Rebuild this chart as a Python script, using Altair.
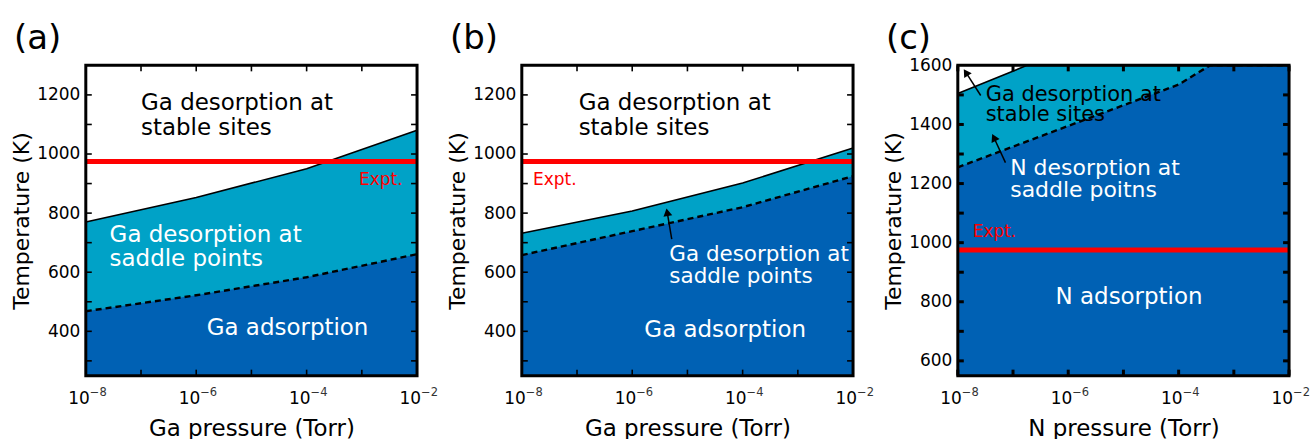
import math
import altair as alt
import pandas as pd

FONT = "DejaVu Sans"
CYAN = "#00A2C7"
BLUE = "#0061B4"
RED = "#FF0000"
W, H = 332, 311

# ---------------- data ----------------
p_grid = [1e-8, 1e-6, 1e-4, 1e-2]
a_stable_T = [770, 853, 950, 1080]      # Ga desorption at stable sites boundary (solid)
a_saddle_T = [468, 522, 583, 661]       # Ga desorption at saddle points boundary (dashed)
b_stable_T = [732, 807, 902, 1020]
b_saddle_T = [658, 739, 820, 925]
c_stable_p = [1e-8, 1.8e-7, 1e-2]
c_stable_T = [1505, 1600, 1600]
c_saddle_p = [1e-8, 1e-6, 1e-4, 3.7e-4, 1e-2]
c_saddle_T = [1255, 1395, 1535, 1600, 1600]
expt_T = [975]

x_tick_vals = [1e-8, 1e-6, 1e-4, 1e-2]
x_tick_base = ["10", "10", "10", "10"]
x_tick_exp = ["−8", "−6", "−4", "−2"]
x_minor = [1e-8, 1e-7, 1e-6, 1e-5, 1e-4, 1e-3, 1e-2]
ab_y_labels = [400, 600, 800, 1000, 1200]
ab_y_ticks = [300, 400, 500, 600, 700, 800, 900, 1000, 1100, 1200]
c_y_labels = [600, 800, 1000, 1200, 1400, 1600]
c_y_ticks = [600, 700, 800, 900, 1000, 1100, 1200, 1300, 1400, 1500]

# annotations: text, p, T, colour, font size
a_texts = [
    ("Ga desorption at", 1e-7, 1149, "black", 23),
    ("stable sites", 1e-7, 1064, "black", 23),
    ("Expt.", 8.9e-4, 895, RED, 17),
    ("Ga desorption at", 2.7e-8, 702, "white", 23),
    ("saddle points", 2.7e-8, 622, "white", 23),
    ("Ga adsorption", 1.55e-6, 386, "white", 23),
]
b_texts = [
    ("Ga desorption at", 1.07e-7, 1149, "black", 23),
    ("stable sites", 1.07e-7, 1064, "black", 23),
    ("Expt.", 1.6e-8, 895, RED, 17),
    ("Ga desorption at", 4.7e-6, 638, "white", 21.5),
    ("saddle points", 4.7e-6, 562, "white", 21.5),
    ("Ga adsorption", 1.66e-6, 380, "white", 23),
]
c_texts = [
    ("Ga desorption at", 3.2e-8, 1481, "black", 21),
    ("stable sites", 3.2e-8, 1411, "black", 21),
    ("N desorption at", 8.9e-8, 1230, "white", 22),
    ("saddle poitns", 8.9e-8, 1154, "white", 22),
    ("Expt.", 1.86e-8, 1020, RED, 17),
    ("N adsorption", 5.9e-7, 793, "white", 23),
]
# arrows: tail p, tail T, head p, head T, head angle
b_arrows = [(5.2e-6, 712, 4.3e-6, 803, 350)]
c_arrows = [(2.6e-8, 1498, 1.4e-8, 1576, 327),
            (7.3e-8, 1271, 4.5e-8, 1356, 334)]


def panel(tag, s_p, s_T, d_p, d_T, ydom, ylabels, yticks, xtitle, texts, arrows, tw):
    xs = alt.Scale(type="log", domain=[1e-8, 1e-2], nice=False)
    ys = alt.Scale(domain=ydom, nice=False, zero=False)
    xax = alt.Axis(values=x_tick_vals, labels=False, ticks=False, tickSize=0, domain=False,
                   grid=False, minExtent=0, title=xtitle, titleFont=FONT, titleFontSize=23,
                   titleFontWeight="normal", titleColor="black", titlePadding=42)
    yax = alt.Axis(values=ylabels, format="d", ticks=False, tickSize=0, domain=False,
                   grid=False, labelOverlap=False, labelFont=FONT, labelFontSize=17,
                   labelColor="black", labelPadding=6, title="Temperature (K)",
                   titleFont=FONT, titleFontSize=22, titleFontWeight="normal",
                   titleColor="black", titlePadding=3)
    X = alt.X("p:Q", scale=xs, axis=xax)
    Y = alt.Y("T:Q", scale=ys, axis=yax)
    floor = alt.datum(ydom[0])

    stable = pd.DataFrame({"p": s_p, "T": s_T})
    saddle = pd.DataFrame({"p": d_p, "T": d_T})

    layers = [
        alt.Chart(stable).mark_area(color=CYAN, opacity=1).encode(x=X, y=Y, y2=floor),
        alt.Chart(saddle).mark_area(color=BLUE, opacity=1).encode(x=X, y=Y, y2=floor),
        alt.Chart(stable).mark_line(color="black", strokeWidth=1.6).encode(x=X, y=Y),
        alt.Chart(saddle).mark_line(color="black", strokeWidth=2.4, strokeDash=[6, 4]).encode(x=X, y=Y),
        alt.Chart(pd.DataFrame({"T": expt_T})).mark_rule(color=RED, strokeWidth=5).encode(
            y=Y, x=alt.value(0), x2=alt.value(W)),
    ]
    tdf = pd.DataFrame(texts, columns=["txt", "p", "T", "col", "fs"])
    layers.append(alt.Chart(tdf).mark_text(align="left", baseline="alphabetic", font=FONT).encode(
        x=X, y=Y, text="txt:N", color=alt.Color("col:N", scale=None),
        size=alt.Size("fs:Q", scale=None)))
    if arrows:
        adf = pd.DataFrame(arrows, columns=["p", "T", "p2", "T2", "ang"])
        layers.append(alt.Chart(adf).mark_rule(color="black", strokeWidth=1.5).encode(
            x=X, y=Y, x2="p2:Q", y2="T2:Q"))
        hdf = adf[["p2", "T2", "ang"]].rename(columns={"p2": "p", "T2": "T"})
        layers.append(alt.Chart(hdf).mark_point(shape="triangle-up", filled=True, size=80,
                                                 color="black", opacity=1).encode(
            x=X, y=Y, angle=alt.Angle("ang:Q", scale=None)))
    # inward ticks on all four sides
    xt = pd.DataFrame({"p": x_minor})
    yt = pd.DataFrame({"T": yticks})
    layers += [
        alt.Chart(xt).mark_rule(color="black", strokeWidth=tw).encode(x=X, y=alt.value(0), y2=alt.value(6)),
        alt.Chart(xt).mark_rule(color="black", strokeWidth=tw).encode(x=X, y=alt.value(H), y2=alt.value(H - 6)),
        alt.Chart(yt).mark_rule(color="black", strokeWidth=tw).encode(y=Y, x=alt.value(0), x2=alt.value(6)),
        alt.Chart(yt).mark_rule(color="black", strokeWidth=tw).encode(y=Y, x=alt.value(W), x2=alt.value(W - 6)),
    ]
    # frame
    layers.append(alt.Chart(pd.DataFrame({"k": [0]})).mark_rect(
        fillOpacity=0, stroke="black", strokeWidth=3).encode(
        x=alt.value(0), x2=alt.value(W), y=alt.value(0), y2=alt.value(H)))
    # x tick labels: 10 with superscript exponent
    ldf = pd.DataFrame({"p": x_tick_vals, "base": x_tick_base, "exp": x_tick_exp})
    layers.append(alt.Chart(ldf).mark_text(
        align="right", baseline="alphabetic", font=FONT, fontSize=17, color="black", dx=4).encode(
        x=X, y=alt.value(H + 28), text="base:N"))
    layers.append(alt.Chart(ldf).mark_text(
        align="left", baseline="alphabetic", font=FONT, fontSize=11.5, color="#333333", dx=4).encode(
        x=X, y=alt.value(H + 20), text="exp:N"))
    # panel tag
    layers.append(alt.Chart(pd.DataFrame({"tag": [tag]})).mark_text(
        align="left", baseline="alphabetic", font=FONT, fontSize=34, color="black").encode(
        x=alt.value(-72), y=alt.value(-16), text="tag:N"))
    return alt.layer(*layers).properties(width=W, height=H)


pa = panel("(a)", p_grid, a_stable_T, p_grid, a_saddle_T, [250, 1300], ab_y_labels,
           ab_y_ticks, "Ga pressure (Torr)", a_texts, [], 1.6)
pb = panel("(b)", p_grid, b_stable_T, p_grid, b_saddle_T, [250, 1300], ab_y_labels,
           ab_y_ticks, "Ga pressure (Torr)", b_texts, b_arrows, 1.6)
pc = panel("(c)", c_stable_p, c_stable_T, c_saddle_p, c_saddle_T, [550, 1600], c_y_labels,
           c_y_ticks, "N pressure (Torr)", c_texts, c_arrows, 3)

chart = alt.hconcat(pa, pb, pc, spacing=105, bounds="flush").properties(
    padding={"left": 10, "top": 21, "right": 0, "bottom": 0}
).configure_view(strokeWidth=0).configure(background="white")

chart.save("out.html", embed_options={"renderer": "svg", "actions": False})
